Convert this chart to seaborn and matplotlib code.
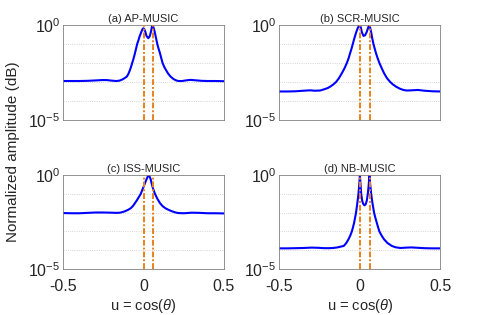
import numpy as np
import matplotlib
matplotlib.use('Agg')
import matplotlib.pyplot as plt
import seaborn as sns

# Data; amplitudes are stored as log10 values
true_doas = [0.0, 0.06]

u_a = [-0.5, -0.45, -0.4, -0.35, -0.3, -0.26, -0.23, -0.2, -0.17, -0.15, -0.13, -0.115, -0.105,
       -0.095, -0.085, -0.078, -0.071, -0.062, -0.054, -0.047, -0.04, -0.032, -0.025, -0.017,
       -0.01, -0.005, -0.002, 0.003, 0.01, 0.018, 0.029, 0.038, 0.046, 0.051, 0.056, 0.062,
       0.067, 0.071, 0.078, 0.085, 0.093, 0.102, 0.11, 0.118, 0.128, 0.139, 0.152, 0.168,
       0.185, 0.2, 0.216, 0.24, 0.27, 0.29, 0.32, 0.36, 0.4, 0.45, 0.5]
lg_a = [-2.95, -2.95, -2.95, -2.94, -2.92, -2.9, -2.9, -2.93, -2.95, -2.93, -2.86, -2.78, -2.72,
        -2.58, -2.37, -2.2, -2.0, -1.75, -1.49, -1.25, -1.0, -0.8, -0.61, -0.43,
        -0.28, -0.2, -0.18, -0.2, -0.35, -0.58, -0.7, -0.6, -0.35, -0.12, 0.0, -0.15,
        -0.3, -0.44, -0.72, -1.0, -1.25, -1.49, -1.75, -2.0, -2.2, -2.37, -2.55, -2.72,
        -2.84, -2.91, -2.95, -2.95, -2.91, -2.89, -2.91, -2.94, -2.95, -2.95, -2.96]

u_b = [-0.5, -0.45, -0.4, -0.35, -0.31, -0.28, -0.247, -0.22, -0.2, -0.185, -0.165, -0.148,
       -0.13, -0.112, -0.095, -0.081, -0.07, -0.061, -0.052, -0.044, -0.035, -0.025, -0.015,
       -0.006, 0.0, 0.006, 0.012, 0.022, 0.032, 0.042, 0.05, 0.056, 0.06, 0.065, 0.071, 0.077,
       0.084, 0.092, 0.1, 0.11, 0.121, 0.135, 0.15, 0.168, 0.188, 0.205, 0.225, 0.25, 0.27,
       0.291, 0.32, 0.36, 0.4, 0.45, 0.5]
lg_b = [-3.5, -3.5, -3.49, -3.46, -3.44, -3.46, -3.45, -3.38, -3.32, -3.25, -3.13, -3.0,
        -2.8, -2.54, -2.27, -2.0, -1.75, -1.49, -1.25, -1.0, -0.72, -0.44, -0.2,
        -0.05, 0.0, -0.15, -0.38, -0.58, -0.55, -0.38, -0.18, -0.03, 0.0, -0.2, -0.44, -0.72,
        -1.0, -1.25, -1.49, -1.75, -2.0, -2.27, -2.54, -2.8, -3.0, -3.13, -3.25, -3.36, -3.42,
        -3.45, -3.44, -3.42, -3.46, -3.49, -3.5]

u_c = [-0.5, -0.45, -0.4, -0.35, -0.3, -0.25, -0.2, -0.17, -0.147, -0.125, -0.11, -0.095,
       -0.08, -0.066, -0.054, -0.042, -0.03, -0.018, -0.005, 0.008, 0.018, 0.026, 0.031,
       0.037, 0.044, 0.05, 0.06, 0.071, 0.085, 0.102, 0.118, 0.135, 0.153, 0.175, 0.195,
       0.216, 0.25, 0.3, 0.35, 0.4, 0.45, 0.5]
lg_c = [-2.02, -2.03, -2.03, -2.01, -1.99, -1.99, -2.0, -2.01, -2.0, -1.95, -1.9, -1.84,
        -1.76, -1.64, -1.49, -1.34, -1.17, -1.0, -0.72, -0.44, -0.22, -0.07, 0.0,
        -0.07, -0.22, -0.44, -0.75, -1.0, -1.25, -1.49, -1.65, -1.76, -1.84, -1.92, -1.98,
        -2.02, -2.03, -2.0, -2.01, -2.03, -2.03, -2.04]

u_d = [-0.5, -0.45, -0.4, -0.35, -0.3, -0.26, -0.22, -0.19, -0.166, -0.14, -0.12, -0.1,
       -0.085, -0.071, -0.06, -0.05, -0.043, -0.036, -0.03, -0.024, -0.016, -0.009, -0.004,
       0.0, 0.004, 0.008, 0.014, 0.02, 0.028, 0.036, 0.043, 0.049, 0.055, 0.059, 0.064, 0.07,
       0.078, 0.088, 0.096, 0.105, 0.113, 0.121, 0.135, 0.15, 0.172, 0.198, 0.22, 0.25,
       0.29, 0.32, 0.36, 0.4, 0.45, 0.5]
lg_d = [-3.9, -3.9, -3.89, -3.88, -3.86, -3.87, -3.89, -3.89, -3.88, -3.85, -3.81, -3.77,
        -3.62, -3.42, -3.22, -3.0, -2.78, -2.54, -2.27, -2.0, -1.49, -1.0, -0.5,
        0.0, -0.5, -1.0, -1.35, -1.52, -1.61, -1.55, -1.35, -1.0, -0.5, 0.0, -0.5, -1.0,
        -1.49, -2.0, -2.27, -2.54, -2.78, -3.0, -3.22, -3.42, -3.62, -3.77, -3.84, -3.88,
        -3.86, -3.85, -3.87, -3.89, -3.9, -3.9]

panels = [
    ('(a) AP-MUSIC', u_a, lg_a),
    ('(b) SCR-MUSIC', u_b, lg_b),
    ('(c) ISS-MUSIC', u_c, lg_c),
    ('(d) NB-MUSIC', u_d, lg_d),
]

sns.set_theme(style='white')
plt.rcParams['font.family'] = ['Liberation Sans', 'DejaVu Sans']
plt.rcParams['mathtext.fontset'] = 'custom'
plt.rcParams['mathtext.rm'] = 'Liberation Sans'
plt.rcParams['mathtext.it'] = 'Liberation Sans:italic'

fig = plt.figure(figsize=(4.91, 3.15), dpi=100)
positions = [
    [0.129, 0.619, 0.327, 0.302],
    [0.569, 0.619, 0.328, 0.302],
    [0.129, 0.146, 0.327, 0.298],
    [0.569, 0.146, 0.328, 0.298],
]

for i, (title, u, lg) in enumerate(panels):
    ax = fig.add_axes(positions[i])
    amp = 10.0 ** np.array(lg)
    sns.lineplot(x=u, y=amp, ax=ax, color='#0000FF', linewidth=1.5)
    for d in true_doas:
        ax.axvline(d, color='#E8821C', linewidth=1.4, linestyle=(0, (3, 1, 1, 1)), zorder=3)
    ax.set_yscale('log')
    ax.set_ylim(1e-5, 1e0)
    ax.set_xlim(-0.5, 0.5)
    ax.set_yticks([1e-5, 1e0])
    ax.set_yticklabels([r'$10^{-5}$', r'$10^{0}$'])
    ax.set_yticks([1e-4, 1e-3, 1e-2, 1e-1], minor=True)
    ax.yaxis.set_minor_formatter(matplotlib.ticker.NullFormatter())
    ax.grid(which='minor', axis='y', linestyle=':', color='#c8c8c8', linewidth=0.6)
    ax.grid(which='major', axis='both', visible=False)
    ax.tick_params(axis='both', which='both', length=0, labelsize=11.5)
    ax.tick_params(axis='y', pad=2)
    ax.tick_params(axis='x', pad=7)
    ax.set_xticks([-0.5, 0, 0.5])
    ax.set_xticklabels(['-0.5', '0', '0.5'])
    if i < 2:
        ax.set_xticklabels([])
    else:
        ax.set_xlabel(r'u = cos($\theta$)', fontsize=10.5, labelpad=2)
    ax.set_ylabel('')
    ax.set_title(title, fontsize=8, pad=2)
    for s in ax.spines.values():
        s.set_color('#808080')
        s.set_linewidth(0.6)

fig.text(0.027, 0.52, 'Normalized amplitude (dB)', rotation=90, ha='center', va='center', fontsize=11)

fig.savefig('out.png', dpi=100)
